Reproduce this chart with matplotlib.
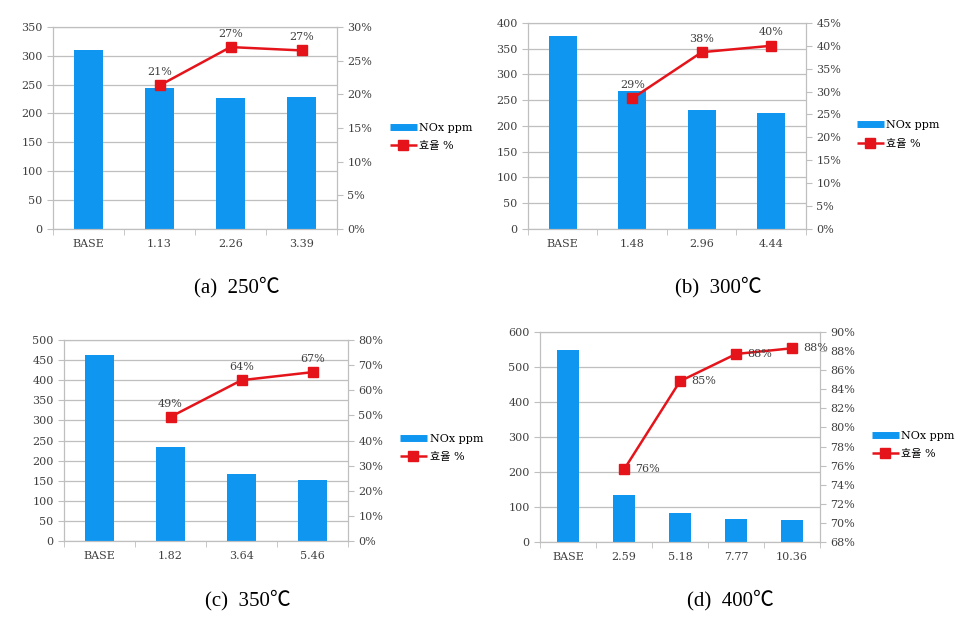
import numpy as np
import matplotlib
matplotlib.use("Agg")
import matplotlib.pyplot as plt
from matplotlib.lines import Line2D
from matplotlib.ticker import FuncFormatter, MultipleLocator

plt.rcParams['font.family'] = ['DejaVu Serif', 'Noto Sans CJK KR']

# data
cats_a = ['BASE', '1.13', '2.26', '3.39']
nox_a = [310, 244, 227, 228]
eff_a = [np.nan, 21.3, 27.0, 26.5]
lab_a = ['', '21%', '27%', '27%']

cats_b = ['BASE', '1.48', '2.96', '4.44']
nox_b = [375, 267, 230, 225]
eff_b = [np.nan, 28.5, 38.6, 40.0]
lab_b = ['', '29%', '38%', '40%']

cats_c = ['BASE', '1.82', '3.64', '5.46']
nox_c = [463, 234, 167, 152]
eff_c = [np.nan, 49.4, 64.0, 67.2]
lab_c = ['', '49%', '64%', '67%']

cats_d = ['BASE', '2.59', '5.18', '7.77', '10.36']
nox_d = [549, 134, 83, 67, 64]
eff_d = [np.nan, 75.6, 84.85, 87.7, 88.3]
lab_d = ['', '76%', '85%', '88%', '88%']

captions = ['(a)  250\u2103', '(b)  300\u2103', '(c)  350\u2103', '(d)  400\u2103']

BLUE = '#0E96F0'
RED = '#E5141B'
GRAY = '#BFBFBF'
TXT = '#404040'

fig = plt.figure(figsize=(9.64, 6.22), dpi=100)


def panel(rect, cats, nox, eff, labs, ylim, ystep, y2lim, y2step,
          leg_xy, cap_xy, caption, label_side='top'):
    ax = fig.add_axes(rect)
    x = np.arange(len(cats))
    ax.bar(x, nox, width=0.4, color=BLUE, zorder=2)
    ax.set_xlim(-0.5, len(cats) - 0.5)
    ax.set_ylim(*ylim)
    ax.yaxis.set_major_locator(MultipleLocator(ystep))
    ax.set_axisbelow(True)
    ax.grid(axis='y', color=GRAY, lw=0.9)
    ax.set_xticks(x)
    ax.set_xticklabels(cats)
    ax.set_xticks(np.arange(len(cats) + 1) - 0.5, minor=True)
    ax.tick_params(axis='x', which='major', length=0, pad=7)
    ax.tick_params(axis='x', which='minor', length=4, color=GRAY)
    ax.tick_params(axis='y', length=4, color=GRAY)
    ax.tick_params(labelsize=8, labelcolor=TXT)
    for s in ax.spines.values():
        s.set_color(GRAY)

    ax2 = ax.twinx()
    ax2.plot(x, eff, color=RED, lw=1.8, marker='s', ms=6.5, zorder=3)
    ax2.set_ylim(*y2lim)
    ax2.yaxis.set_major_locator(MultipleLocator(y2step))
    ax2.yaxis.set_major_formatter(FuncFormatter(lambda v, p: f'{v:.0f}%'))
    ax2.tick_params(axis='y', length=4, color=GRAY, labelsize=8, labelcolor=TXT)
    for s in ax2.spines.values():
        s.set_color(GRAY)

    for xi, v, t in zip(x, eff, labs):
        if not t:
            continue
        if label_side == 'top':
            ax2.annotate(t, (xi, v), xytext=(0, 6), textcoords='offset points',
                         ha='center', va='bottom', fontsize=8, color=TXT)
        else:
            ax2.annotate(t, (xi, v), xytext=(8, 0), textcoords='offset points',
                         ha='left', va='center', fontsize=8, color=TXT)

    handles = [Line2D([], [], color=BLUE, lw=5, solid_capstyle='butt'),
               Line2D([], [], color=RED, lw=1.8, marker='s', ms=6.5,
                      solid_capstyle='butt')]
    ax2.legend(handles, ['NOx ppm', '\ud6a8\uc728 %'], loc='center left',
               bbox_to_anchor=leg_xy, bbox_transform=fig.transFigure,
               frameon=False, handlelength=2.4, handletextpad=0.25,
               borderpad=0, borderaxespad=0, labelspacing=0.75,
               prop={'family': ['DejaVu Serif', 'Noto Sans CJK KR'], 'size': 8})
    fig.text(cap_xy[0], cap_xy[1], caption, ha='center', va='center',
             fontsize=15, color='black',
             family=['Liberation Serif', 'Noto Sans CJK KR'])


panel([0.055, 0.632, 0.2946, 0.3248], cats_a, nox_a, eff_a, lab_a,
      (0, 350), 50, (0, 30), 5, (0.4046, 0.780), (0.2459, 0.5386), captions[0])
panel([0.5477, 0.632, 0.2884, 0.3312], cats_b, nox_b, eff_b, lab_b,
      (0, 400), 50, (0, 45), 5, (0.889, 0.784), (0.7448, 0.5386), captions[1])
panel([0.0664, 0.1302, 0.2946, 0.3232], cats_c, nox_c, eff_c, lab_c,
      (0, 500), 50, (0, 80), 10, (0.415, 0.280), (0.2573, 0.0354), captions[2])
panel([0.5602, 0.1286, 0.2905, 0.3376], cats_d, nox_d, eff_d, lab_d,
      (0, 600), 100, (68, 90), 2, (0.9046, 0.285), (0.7573, 0.0354), captions[3],
      label_side='right')

fig.savefig('out.png', dpi=100)
